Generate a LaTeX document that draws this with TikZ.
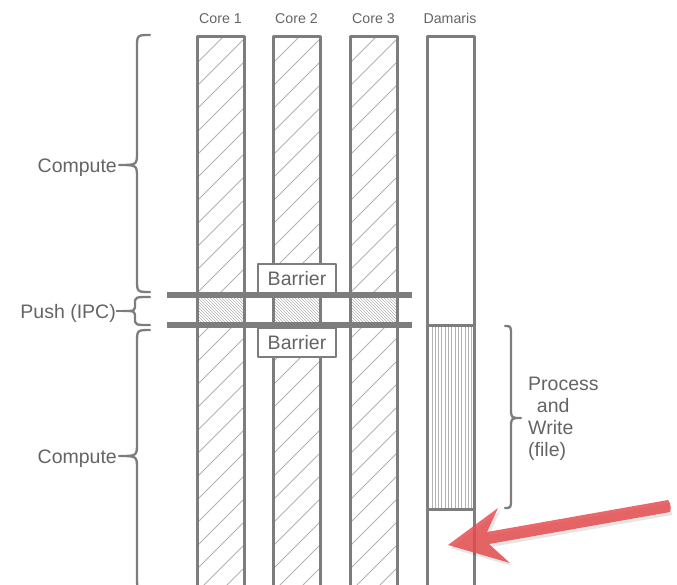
\documentclass[tikz,border=0pt]{standalone}
\usepackage{fontspec}
\setmainfont{Liberation Sans}
\begin{document}
\begin{tikzpicture}[x=1pt,y=-1pt,line join=round]
\definecolor{ln}{RGB}{125,125,125}
\definecolor{tx}{RGB}{100,100,100}
\definecolor{ht}{RGB}{178,178,178}
\definecolor{ar}{RGB}{229,78,81}
\tikzset{
  colbox/.style={draw=ln,line width=3pt},
  lbl/.style={text=tx,font=\fontsize{19.5}{22}\selectfont,inner sep=0pt},
  corelbl/.style={text=tx,font=\fontsize{14.2}{16}\selectfont,inner sep=0pt},
  hatchline/.style={draw=ht,line width=0.8pt},
  finehatch/.style={draw=ht,line width=0.6pt},
  barfill/.style={fill=ln},
  bracepath/.style={draw=ln,line width=2.3pt,line cap=round},
  barrierbox/.style={draw=ln,line width=2.5pt,fill=white,minimum width=78pt,minimum height=29pt,inner sep=0pt,text=tx,font=\fontsize{19.5}{22}\selectfont},
  redarrow/.style={fill=ar,fill opacity=0.85,draw=none}
}
\useasboundingbox (0,0) rectangle (677,584);
\clip (0,0) rectangle (677,584);
% core hatching
\foreach \xl in {197,273,350}{
  \begin{scope}
    \clip (\xl,36) rectangle ++(47,259) (\xl,325) rectangle ++(47,280);
    \foreach \c in {40,63,...,960}{\draw[hatchline] (\xl,\c) -- ++(70,-70);}
  \end{scope}
  \begin{scope}
    \clip (\xl,296) rectangle ++(47,28);
    \foreach \c in {-40,-37,...,60}{\draw[finehatch] (\xl+\c,296) -- ++(30,30);}
  \end{scope}
}
% Damaris vertical hatch
\begin{scope}
  \clip (427,325) rectangle (473,509);
  \foreach \c in {428.5,431.8,...,474}{\draw[finehatch] (\c,325) -- (\c,509);}
\end{scope}
% columns
\foreach \xl in {197,273,350,427}{\draw[colbox] (\xl,36) rectangle ++(47,570);}
\draw[colbox] (427,325) -- (473,325);
\draw[colbox] (427,509) -- (473,509);
% labels
\node[corelbl,anchor=base] (c1) at (220.5,23) {Core 1};
\node[corelbl,anchor=base] (c2) at (296.5,23) {Core 2};
\node[corelbl,anchor=base] (c3) at (373.5,23) {Core 3};
\node[corelbl,anchor=base] (dm) at (450,23) {Damaris};
% barriers
\node[barrierbox] (b1) at (297,278.5) {Barrier};
\node[barrierbox] (b2) at (297,342.5) {Barrier};
\fill[barfill] (167,292) rectangle (412,298);
\fill[barfill] (167,322) rectangle (412,328);
% braces
\draw[bracepath] (150,35) .. controls (137,35) .. (137,48) -- (137,152) .. controls (137,165) .. (119,165) .. controls (137,165) .. (137,178) -- (137,279) .. controls (137,292) .. (150,292);
\draw[bracepath] (150,297) .. controls (135,297) .. (135,304) .. controls (135,311) .. (123,311) .. controls (135,311) .. (135,318) .. controls (135,325) .. (150,325);
\draw[bracepath] (150,330) .. controls (137,330) .. (137,343) -- (137,443) .. controls (137,456) .. (119,456) .. controls (137,456) .. (137,469) -- (137,577) .. controls (137,590) .. (150,590);
\draw[bracepath] (505,326) .. controls (511,326) .. (511,336) -- (511,408) .. controls (511,418) .. (521,418) .. controls (511,418) .. (511,428) -- (511,498) .. controls (511,508) .. (505,508);
\node[lbl,anchor=base east] (cu) at (117,172) {Compute};
\node[lbl,anchor=base east] (pu) at (116,318) {Push (IPC)};
\coordinate (pt) at (124,311);
\draw[ln,line width=2.3pt] (pu.east |- pt) -- (pt);
\node[lbl,anchor=base east] (cl) at (117,463) {Compute};
\node[lbl,anchor=north west,align=left,font=\fontsize{19.5}{22}\selectfont] (pw) at (528,377) {Process\\\hspace{0.45em}and\\Write\\(file)};
% red arrow
\fill[black,opacity=0.10] ([shift={(2,3)}]448,545) -- ([shift={(2,3)}]498,508) -- ([shift={(2,3)}]487,532) -- ([shift={(2,3)}]668,500) -- ([shift={(2,3)}]670,512) -- ([shift={(2,3)}]489,544) -- ([shift={(2,3)}]510,563) -- cycle;
\fill[redarrow] (448,545) -- (498,508) -- (487,532) -- (668,500) .. controls (671,503) and (671,509) .. (670,512) -- (489,544) -- (510,563) -- cycle;
\end{tikzpicture}
\end{document}
